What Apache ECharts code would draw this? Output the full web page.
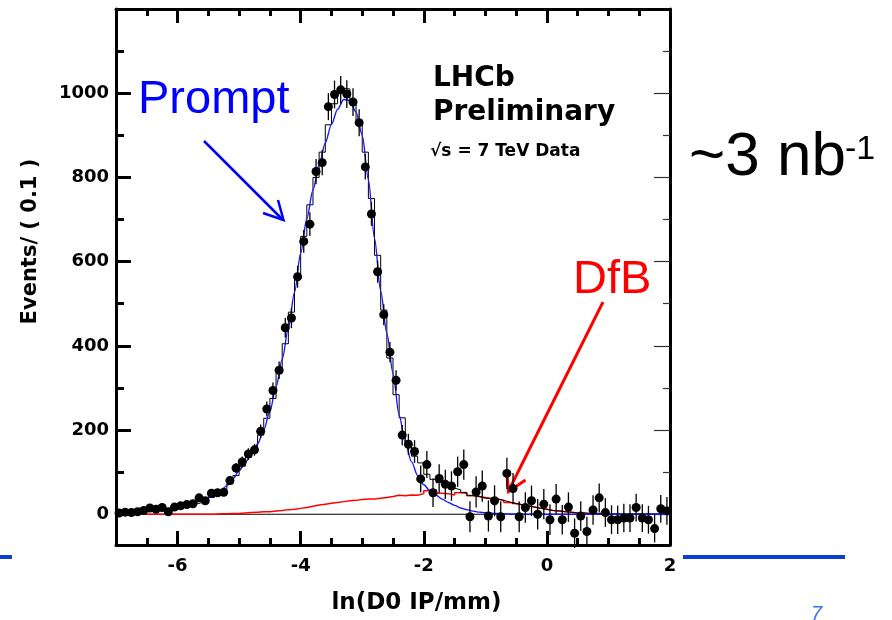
<!DOCTYPE html>
<html>
<head>
<meta charset="utf-8">
<script src="https://cdn.jsdelivr.net/npm/echarts@6/dist/echarts.min.js"></script>
<style>
  html, body { margin: 0; padding: 0; background: #ffffff; }
  #chart { width: 892px; height: 620px; }
</style>
</head>
<body>
<div id="chart"></div>
<script>
// Binning of ln(D0 IP/mm): 90 bins of width 0.1 starting at -7
const BIN_MIN = -7.0;
const BIN_WIDTH = 0.1;

// Data: events per bin (background-subtracted, may go negative)
const dataCounts = [
  3, 5, 4, 6, 9, 15, 12, 16, 6, 17,
  20, 23, 25, 39, 32, 50, 51, 52, 80, 110,
  124, 143, 153, 197, 250, 294, 342, 443, 466, 564,
  648, 689, 814, 835, 968, 997, 1008, 998, 979, 930,
  825, 713, 576, 474, 385, 318, 188, 166, 149, 84,
  118, 51, 85, 71, 67, 101, 118, -6, 53, 67,
  -4, 32, -6, 97, 61, -6, 16, 32, 0, 24,
  -13, 36, -13, 17, -45, -4, -41, 10, 39, 4,
  -13, -13, -9, -9, 16, -9, -13, -34, 13, 8
];

// Statistical uncertainty on each data bin
const dataErrors = [
  3, 3, 3, 3, 4, 4, 4, 5, 4, 5,
  5, 6, 6, 7, 7, 8, 8, 9, 10, 12,
  13, 14, 14, 16, 18, 19, 21, 23, 24, 26,
  27, 28, 30, 30, 32, 33, 33, 33, 33, 32,
  30, 28, 26, 25, 24, 24, 24, 25, 27, 32,
  32, 34, 34, 35, 35, 36, 36, 37, 37, 37,
  37, 37, 37, 37, 37, 37, 36, 36, 36, 36,
  36, 36, 35, 35, 35, 35, 35, 35, 34, 34,
  34, 34, 34, 33, 33, 33, 33, 33, 33, 33
];

// Total template histogram (black)
const totalTemplate = [
  4, 4, 5, 5, 6, 7, 8, 10, 12, 14,
  17, 20, 24, 28, 34, 40, 48, 58, 72, 92,
  114, 135, 158, 188, 228, 275, 335, 405, 480, 570,
  660, 735, 800, 860, 925, 975, 1012, 1010, 985, 935,
  860, 750, 615, 485, 371, 284, 229, 174, 138, 122,
  95, 83, 75, 67, 62, 58, 52, 45, 42, 38,
  38, 36, 33, 29, 26, 23, 20, 17, 14, 12,
  9, 8, 6, 5, 3, 3, 2, 2, 2, 1,
  1, 1, 1, 1, 1, 1, 1, 1, 1, 1
];

// D from B template histogram (red), drawn up to 0.9
const dfbTemplate = [
  0, 0, 0, 0, 0, 0, 0, 0, 0, 0,
  0, 0, 0, 0, 0, 0, 1, 1, 2, 2,
  3, 4, 5, 6, 6, 8, 9, 11, 12, 14,
  16, 19, 22, 24, 26, 28, 30, 32, 33, 35,
  36, 36, 38, 40, 42, 45, 44, 46, 45, 49,
  56, 58, 50, 49, 46, 51, 50, 44, 42, 40,
  37, 36, 33, 28, 25, 22, 20, 17, 14, 12,
  9, 8, 6, 5, 3, 3, 2, 2, 2
];

// Prompt fit curve (blue), sampled every 0.1 from -7.0 to 2.0
const CURVE_MIN = -7.0;
const CURVE_STEP = 0.1;
const promptFit = [
  3, 3.5, 4.2, 5, 6, 7, 8.3, 9.8, 11.7, 14.5,
  18, 21, 24.5, 28.5, 34, 40, 47, 56, 68, 84,
  103, 123, 143, 167, 200, 245, 302, 368, 442, 527,
  620, 702, 770, 830, 882, 926, 962, 985, 983, 955,
  900, 795, 655, 530, 430, 335, 235, 170, 125, 92,
  70, 56, 45, 36, 28, 21, 15, 11, 7.5, 5,
  3.5, 2.5, 1.8, 1.2, 0.8, 0.5, 0.3, 0.2, 0.1, 0.1,
  0, 0, 0, 0, 0, 0, 0, 0, 0, 0,
  0, 0, 0, 0, 0, 0, 0, 0, 0, 0, 0
];

// Axis ticks and labels
const xMajorTicks = [-6, -4, -2, 0];
const xTickLabels = [-6, -4, -2, 0, 2];
const xMinorTicks = [-6.5, -5.5, -5, -4.5, -3.5, -3, -2.5, -1.5, -1, -0.5, 0.5, 1, 1.5];
const yMajorTicks = [0, 200, 400, 600, 800, 1000];
const yTickLabels = [0, 200, 400, 600, 800, 1000];
const yMinorTicks = [100, 300, 500, 700, 900, 1100];

const X_MIN = -7, X_MAX = 2, Y_MIN = -73, Y_MAX = 1200;

// ---- build series data ----
function binLow(i) { return +(BIN_MIN + i * BIN_WIDTH).toFixed(4); }
function binCenter(i) { return +(BIN_MIN + (i + 0.5) * BIN_WIDTH).toFixed(4); }

function stepData(values) {
  const pts = values.map((v, i) => [binLow(i), v]);
  pts.push([binLow(values.length), values[values.length - 1]]);
  return pts;
}

const pointData = dataCounts.map((v, i) => [binCenter(i), v, dataErrors[i]]);
const curveData = promptFit.map((v, i) => [+(CURVE_MIN + i * CURVE_STEP).toFixed(4), v]);

const PLOT_FONT = '"DejaVu Sans", "Liberation Sans", sans-serif';
const SLIDE_FONT = '"Liberation Sans", Arial, sans-serif';
const plainNumber = v => String(v);

function xAxisDef(position, ticks, len, withLine, labels, extra) {
  return Object.assign({
    type: 'value', position: position, min: X_MIN, max: X_MAX,
    gridIndex: 0,
    axisLine: { show: withLine, onZero: false, lineStyle: { color: '#000', width: 3 } },
    axisTick: { show: true, inside: true, length: len, customValues: ticks,
                lineStyle: { color: '#000', width: 3 } },
    axisLabel: labels ? { show: true, customValues: labels, margin: 12, formatter: plainNumber,
                fontFamily: PLOT_FONT, fontWeight: 'bold', fontSize: 18, color: '#000' }
                      : { show: false },
    splitLine: { show: false }
  }, extra || {});
}

function yAxisDef(position, ticks, len, withLine, labels, tickStyle, extra) {
  return Object.assign({
    type: 'value', position: position, min: Y_MIN, max: Y_MAX,
    gridIndex: 0,
    axisLine: { show: withLine, onZero: false, lineStyle: { color: '#000', width: 3 } },
    axisTick: { show: true, inside: true, length: len, customValues: ticks,
                lineStyle: tickStyle },
    axisLabel: labels ? { show: true, customValues: labels, margin: 7, formatter: plainNumber,
                fontFamily: PLOT_FONT, fontWeight: 'bold', fontSize: 18, color: '#000' }
                      : { show: false },
    splitLine: { show: false }
  }, extra || {});
}

const boldTick = { color: '#000', width: 3 };
const thinTick = { color: '#333', width: 1.2 };

const option = {
  animation: false,
  backgroundColor: '#ffffff',
  grid: { left: 116, right: 222, top: 9, bottom: 74, containLabel: false },
  xAxis: [
    xAxisDef('bottom', xMajorTicks, 14, true, xTickLabels, {
      name: 'ln(D0 IP/mm)', nameLocation: 'middle', nameGap: 47,
      nameTextStyle: { fontFamily: PLOT_FONT, fontWeight: 'bold', fontSize: 23,
                       color: '#000', padding: [0, 0, 0, 47] }
    }),
    xAxisDef('bottom', xMinorTicks, 7, false, null),
    xAxisDef('top', xMajorTicks, 14, true, null),
    xAxisDef('top', xMinorTicks, 7, false, null)
  ],
  yAxis: [
    yAxisDef('left', yMajorTicks, 15, true, yTickLabels, boldTick, {
      name: 'Events/ ( 0.1 )', nameLocation: 'middle', nameGap: 75, nameRotate: 90,
      nameTextStyle: { fontFamily: PLOT_FONT, fontWeight: 'bold', fontSize: 21,
                       color: '#000', padding: [0, 0, 0, 71] }
    }),
    yAxisDef('left', yMinorTicks, 8, false, null, boldTick),
    yAxisDef('right', yMajorTicks, 16, true, null, thinTick),
    yAxisDef('right', yMinorTicks, 7, false, null, thinTick)
  ],
  series: [
    {
      name: 'zero', type: 'line', xAxisIndex: 0, yAxisIndex: 0,
      data: [[X_MIN, 0], [X_MAX, 0]],
      symbol: 'none', silent: true,
      lineStyle: { color: '#000', width: 1 }, z: 1
    },
    {
      name: 'DfB', type: 'line', xAxisIndex: 0, yAxisIndex: 0,
      data: stepData(dfbTemplate), step: 'end',
      symbol: 'none', silent: true,
      lineStyle: { color: '#ff0000', width: 1.5 }, z: 2
    },
    {
      name: 'Total', type: 'line', xAxisIndex: 0, yAxisIndex: 0,
      data: stepData(totalTemplate), step: 'end',
      symbol: 'none', silent: true,
      lineStyle: { color: '#000', width: 1 }, z: 3
    },
    {
      name: 'Prompt fit', type: 'line', xAxisIndex: 0, yAxisIndex: 0,
      data: curveData, smooth: 0.3, smoothMonotone: 'x',
      symbol: 'none', silent: true,
      lineStyle: { color: '#1a1aff', width: 1.4 }, z: 4
    },
    {
      name: 'Data errors', type: 'custom', xAxisIndex: 0, yAxisIndex: 0,
      data: pointData, encode: { x: 0, y: 1 }, silent: true, z: 5,
      renderItem: function (params, api) {
        const x = api.value(0), y = api.value(1), e = api.value(2);
        const top = api.coord([x, y + e]);
        const bot = api.coord([x, y - e]);
        return {
          type: 'line',
          shape: { x1: top[0], y1: top[1], x2: bot[0], y2: bot[1] },
          style: { stroke: '#000', lineWidth: 1.3 }
        };
      }
    },
    {
      name: 'Data', type: 'scatter', xAxisIndex: 0, yAxisIndex: 0,
      data: pointData, symbol: 'circle', symbolSize: 9,
      itemStyle: { color: '#000', opacity: 1 }, silent: true, z: 6
    }
  ],
  graphic: [
    // slide rules under the plot
    { type: 'line', shape: { x1: 0, y1: 557, x2: 12, y2: 557 },
      style: { stroke: '#0b3fd1', lineWidth: 4 } },
    { type: 'line', shape: { x1: 683, y1: 557, x2: 845, y2: 557 },
      style: { stroke: '#0b3fd1', lineWidth: 4 } },
    // Prompt label and arrow
    { type: 'text', x: 138, y: 100,
      style: { text: 'Prompt', font: '47px ' + SLIDE_FONT, fill: '#0000ff',
               align: 'left', verticalAlign: 'middle' } },
    { type: 'line', shape: { x1: 204, y1: 141, x2: 283, y2: 220 },
      style: { stroke: '#0000ff', lineWidth: 2.5 } },
    { type: 'polyline', shape: { points: [[263, 213], [283.5, 220], [278, 200]] },
      style: { stroke: '#0000ff', lineWidth: 2.5, fill: null } },
    // DfB label and arrow
    { type: 'text', x: 573, y: 280,
      style: { text: 'DfB', font: '47px ' + SLIDE_FONT, fill: '#ff0000',
               align: 'left', verticalAlign: 'middle' } },
    { type: 'line', shape: { x1: 603, y1: 302, x2: 509, y2: 490 },
      style: { stroke: '#ff0000', lineWidth: 3 } },
    { type: 'polyline', shape: { points: [[525.5, 480], [508.5, 491.5], [507, 475]] },
      style: { stroke: '#ff0000', lineWidth: 3, fill: null } },
    // experiment caption
    { type: 'text', x: 433, y: 79,
      style: { text: 'LHCb', font: 'bold 28px ' + PLOT_FONT, fill: '#000',
               align: 'left', verticalAlign: 'middle' } },
    { type: 'text', x: 433, y: 112.5,
      style: { text: 'Preliminary', font: 'bold 28px ' + PLOT_FONT, fill: '#000',
               align: 'left', verticalAlign: 'middle' } },
    { type: 'text', x: 430, y: 152,
      style: { text: '\u221As = 7 TeV Data', font: 'bold 17px ' + PLOT_FONT, fill: '#000',
               align: 'left', verticalAlign: 'middle' } },
    // integrated luminosity
    { type: 'text', x: 689, y: 158,
      style: { text: '~3 nb', font: '62px ' + SLIDE_FONT, fill: '#000',
               align: 'left', verticalAlign: 'middle' } },
    { type: 'text', x: 845, y: 150,
      style: { text: '-1', font: '34px ' + SLIDE_FONT, fill: '#000',
               align: 'left', verticalAlign: 'middle' } },
    // page number
    { type: 'text', x: 811, y: 614,
      style: { text: '7', font: 'italic 20px ' + SLIDE_FONT, fill: '#3a6df0',
               align: 'left', verticalAlign: 'middle' } }
  ]
};

const chart = echarts.init(document.getElementById('chart'), null, { renderer: 'canvas' });
chart.setOption(option);
</script>
</body>
</html>
